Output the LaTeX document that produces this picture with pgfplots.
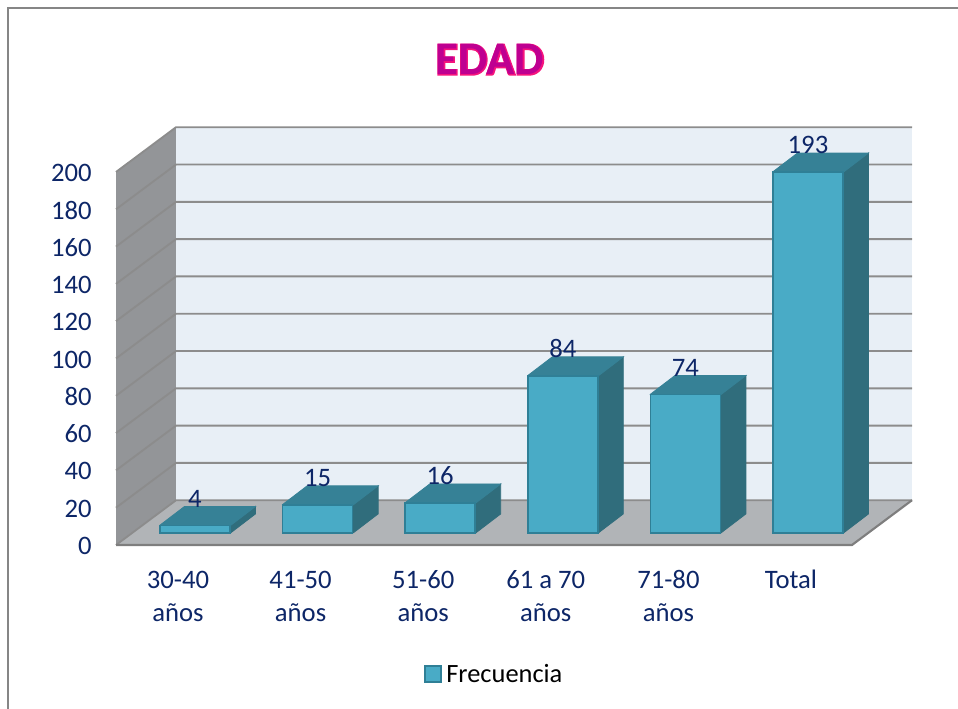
\documentclass[border=0pt]{standalone}
\usepackage{fontspec}
\usepackage{pgfplots}
\usepackage{pgfplotstable}
\pgfplotsset{compat=1.18}
\setmainfont{Carlito}
\newfontfamily\titlefat[BoldFeatures={FakeBold=4}]{Carlito}

\definecolor{txtblue}{HTML}{0D2667}
\definecolor{wallback}{HTML}{E8EFF6}
\definecolor{wallside}{HTML}{939598}
\definecolor{floorc}{HTML}{B1B4B7}
\definecolor{gridc}{HTML}{8C8C8C}
\definecolor{barfront}{HTML}{49ABC6}
\definecolor{baredge}{HTML}{2F7F96}
\definecolor{bartop}{HTML}{368196}
\definecolor{barside}{HTML}{306D7C}
\definecolor{titlepink}{HTML}{F5147D}
\definecolor{titlemag}{HTML}{BE0091}

\pgfplotstableread{
pos value
0 4
1 15
2 16
3 84
4 74
5 193
}\edadtable

\pgfplotsset{
  panel/.style={draw=none, mark=none, forget plot},
  gridl/.style={draw=gridc, line width=1.4pt, mark=none, forget plot},
  topface/.style={fill=bartop, draw=bartop, line width=0.6pt, mark=none, forget plot},
  sideface/.style={fill=barside, draw=barside, line width=0.6pt, mark=none, forget plot},
}

% top and side of a bar, behind its front
\newcommand{\barfaces}[2]{%
  \pgfmathsetmacro{\xa}{#1-0.2895}%
  \pgfmathsetmacro{\xb}{#1+0.2895}%
  \pgfmathsetmacro{\xc}{#1-0.0855}%
  \pgfmathsetmacro{\xd}{#1+0.4935}%
  \pgfmathsetmacro{\yt}{#2+10.2}%
  \edef\tmp{%
    \noexpand\addplot[sideface] coordinates {(\xb,0) (\xd,10.2) (\xd,\yt) (\xb,#2) (\xb,0)};
    \noexpand\addplot[topface] coordinates {(\xa,#2) (\xc,\yt) (\xd,\yt) (\xb,#2) (\xa,#2)};
  }\tmp
}
\newcommand{\gridl}[2]{\addplot[gridl] coordinates {(-0.6444,#1) (-0.155,#2) (5.8484,#2)};}
\newcommand{\lh}{\rule{0pt}{15pt}}

\begin{document}
\begin{tikzpicture}
  \useasboundingbox (0,0) rectangle (718.5pt,531.75pt);
  \draw[color=gray!95, line width=1.5pt] (6pt,0) -- (6pt,525.75pt) -- (718.5pt,525.75pt);

  % walls, floor and tick labels
  \begin{axis}[
    at={(87pt,123pt)}, anchor=south west,
    scale only axis, width=552pt, height=279.75pt,
    xmin=-0.6444, xmax=5.359, ymin=0, ymax=200,
    clip=false,
    axis line style={draw=none},
    major tick length=0pt,
    ytick={0,20,...,200},
    xtick={0,1,2,3,4,5},
    xticklabels={\lh 30-40\\años,\lh 41-50\\años,\lh 51-60\\años,\lh 61 a 70\\años,\lh 71-80\\años,\lh Total},
    tick label style={font=\fontsize{20pt}{24.75pt}\selectfont, text=txtblue},
    /pgf/number format/assume math mode=true,
    yticklabel style={inner sep=0pt, xshift=-18pt, yshift=-0.75pt},
    xticklabel style={align=center, xshift=-12.75pt, yshift=-17.25pt, inner sep=0pt},
  ]
    \addplot[panel, fill=wallside] coordinates {(-0.6444,0) (-0.155,24) (-0.155,224) (-0.6444,200)};
    \addplot[panel, fill=floorc] coordinates {(-0.6444,0) (-0.155,24) (5.8484,24) (5.359,0)};
    \addplot[panel, fill=wallback] coordinates {(-0.155,24) (5.8484,24) (5.8484,224) (-0.155,224)};
    \gridl{0}{24}
    \gridl{20}{44}
    \gridl{40}{64}
    \gridl{60}{84}
    \gridl{80}{104}
    \gridl{100}{124}
    \gridl{120}{144}
    \gridl{140}{164}
    \gridl{160}{184}
    \gridl{180}{204}
    \gridl{200}{224}
    \addplot[draw=gridc!90!black, line width=1.6pt, mark=none, forget plot] coordinates {(-0.6444,0) (5.359,0) (5.8484,24)};
  \end{axis}

  % bars, scaled so that their base sits on the floor
  \begin{axis}[
    at={(87pt,123pt)}, anchor=south west,
    scale only axis, width=552pt, height=279.75pt,
    xmin=-0.6444, xmax=5.359, ymin=-6.417, ymax=193.05,
    clip=false, hide axis,
    /pgf/number format/assume math mode=true,
    legend style={at={(0.5145,-0.346)}, anchor=center, draw=none, fill=none,
      font=\fontsize{19.8pt}{24pt}\selectfont, inner sep=0pt},
    legend cell align=left,
  ]
    \barfaces{0}{4}
    \barfaces{1}{15}
    \barfaces{2}{16}
    \barfaces{3}{84}
    \barfaces{4}{74}
    \barfaces{5}{193}
    \addplot[ybar, bar width=52.5pt, bar shift=0pt, fill=barfront, draw=baredge, line width=1.3pt,
      nodes near coords,
      every node near coord/.append style={anchor=center, yshift=20.25pt,
        font=\fontsize{20pt}{24pt}\selectfont, text=txtblue},
      legend image code/.code={\draw[fill=barfront, draw=baredge, line width=1.1pt] (0pt,-6pt) rectangle (12pt,6pt);
        \path[draw=none, fill=none] (0pt,0pt) -- (14pt,0pt);},
    ] table[x=pos, y=value] {\edadtable};
    \addlegendentry{Frecuencia}
  \end{axis}

  % title
  \node[font=\titlefat\bfseries\fontsize{35pt}{40pt}\selectfont, text=titlepink] at (367.5pt,487pt) {EDAD};
  \node[font=\bfseries\fontsize{35pt}{40pt}\selectfont, text=titlemag] at (367.5pt,487pt) {EDAD};
\end{tikzpicture}
\end{document}
